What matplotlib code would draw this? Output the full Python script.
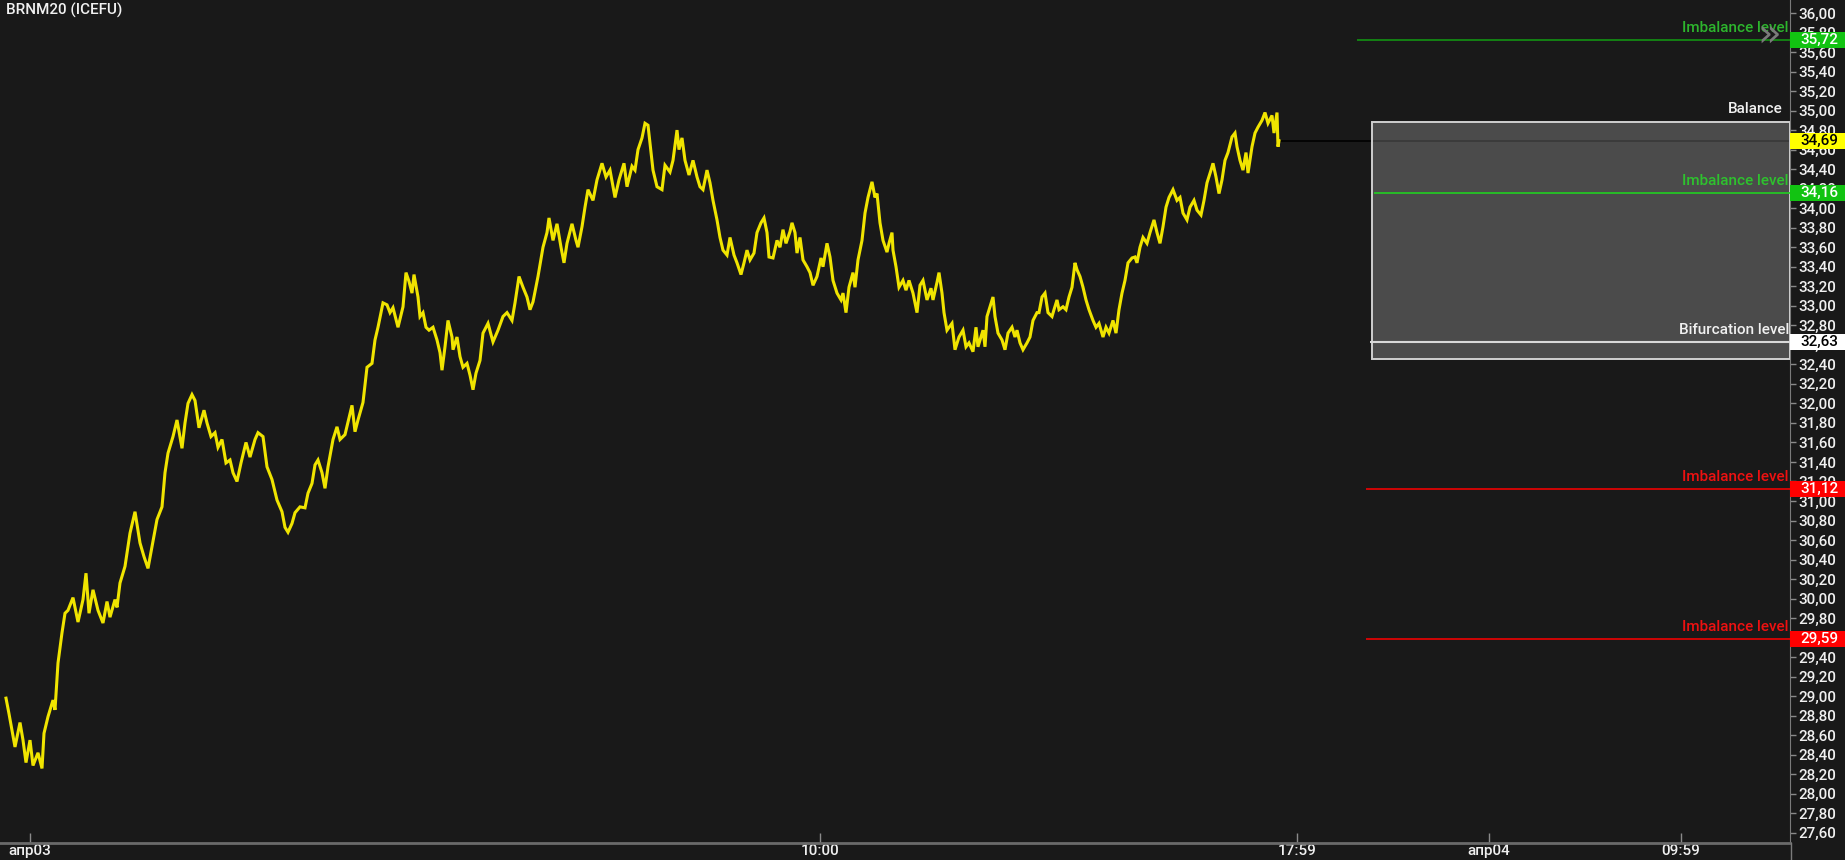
import numpy as np
import matplotlib
matplotlib.use("Agg")
import matplotlib.pyplot as plt
from matplotlib.patches import Rectangle
import matplotlib.transforms as mtransforms
from matplotlib.ticker import FuncFormatter, MultipleLocator

plt.rcParams['font.family'] = ['Roboto', 'DejaVu Sans']
plt.rcParams['font.weight'] = 'medium'

# price path (bar index, price), in four pieces
bar1 = [6, 9, 13, 15, 20, 23, 26, 30, 33, 38, 42, 44, 48, 53, 55, 58, 62, 65, 68, 73,
        78, 83, 86, 89, 93, 98, 103, 107, 110, 115, 117, 120, 125, 130, 135, 140, 144, 148, 152, 157,
        162, 165, 168, 173, 177, 182, 185, 188, 192, 195, 199, 204, 207, 211, 215, 218, 222, 226, 230, 233,
        237, 241, 246, 250, 255, 258, 263, 267, 272, 277, 282, 285, 288, 292, 295, 300, 305, 308, 312, 315,
        318]
px1 = [28.98, 28.82, 28.59, 28.48, 28.73, 28.55, 28.32, 28.55, 28.29, 28.42, 28.26, 28.62, 28.79, 28.96, 28.86, 29.34, 29.65, 29.85, 29.88, 30.01,
       29.76, 29.99, 30.26, 29.85, 30.09, 29.88, 29.75, 29.97, 29.81, 29.99, 29.91, 30.16, 30.33, 30.67, 30.89, 30.57, 30.43, 30.31, 30.53, 30.81,
       30.94, 31.29, 31.49, 31.66, 31.83, 31.54, 31.80, 32.00, 32.09, 32.03, 31.75, 31.93, 31.80, 31.66, 31.70, 31.55, 31.63, 31.39, 31.42, 31.29,
       31.20, 31.39, 31.60, 31.45, 31.63, 31.70, 31.66, 31.35, 31.22, 31.01, 30.89, 30.73, 30.68, 30.77, 30.88, 30.94, 30.93, 31.08, 31.18, 31.37,
       31.42]

bar2 = [322, 325, 328, 333, 337, 340, 345, 348, 352, 355, 358, 363, 367, 372, 375, 378, 383, 387, 390, 393,
        398, 403, 406, 409, 412, 414, 418, 420, 423, 426, 429, 433, 437, 440, 442, 445, 448, 452, 453, 457,
        460, 463, 467, 470, 473, 476, 480, 483, 488, 493, 498, 503, 507, 512, 515, 519, 523, 527, 530, 533,
        538, 543, 547, 549, 553, 557, 561, 564, 567, 572, 576, 578, 582, 585, 588, 593, 597, 602, 606, 610,
        615, 619, 624, 627, 632, 635, 638, 642, 645, 648]
px2 = [31.29, 31.13, 31.35, 31.63, 31.76, 31.63, 31.68, 31.81, 31.98, 31.71, 31.83, 32.01, 32.37, 32.41, 32.65, 32.78, 33.03, 33.01, 32.93, 32.98,
       32.78, 32.99, 33.34, 33.25, 33.13, 33.32, 33.09, 32.89, 32.93, 32.78, 32.75, 32.78, 32.65, 32.52, 32.34, 32.58, 32.85, 32.68, 32.55, 32.68,
       32.48, 32.37, 32.41, 32.29, 32.14, 32.31, 32.44, 32.72, 32.82, 32.63, 32.75, 32.89, 32.93, 32.85, 33.03, 33.30, 33.19, 33.09, 32.96, 33.04,
       33.30, 33.60, 33.75, 33.90, 33.67, 33.84, 33.60, 33.44, 33.64, 33.84, 33.67, 33.60, 33.81, 34.01, 34.19, 34.08, 34.29, 34.46, 34.32, 34.39,
       34.11, 34.29, 34.46, 34.22, 34.43, 34.39, 34.60, 34.72, 34.87, 34.85]

bar3 = [653, 657, 662, 665, 670, 673, 677, 679, 682, 685, 689, 693, 697, 700, 703, 707, 710, 713, 717, 720,
        723, 727, 730, 734, 737, 741, 744, 747, 750, 754, 757, 761, 764, 767, 769, 773, 777, 780, 783, 786,
        790, 792, 795, 797, 800, 803, 807, 810, 813, 817, 821, 823, 827, 830, 833, 837, 841, 843, 846, 849,
        853, 855, 858, 862, 865, 868, 872, 875, 877, 880, 883, 887, 889, 892, 893, 896, 899, 903, 906, 909,
        913, 917, 920, 923, 927, 931, 933, 937, 939, 942, 944, 947, 952, 955, 959, 963, 966, 969, 973, 976,
        978]
px3 = [34.39, 34.22, 34.19, 34.44, 34.37, 34.49, 34.80, 34.60, 34.72, 34.49, 34.34, 34.49, 34.32, 34.22, 34.19, 34.39, 34.26, 34.08, 33.88, 33.70,
       33.57, 33.52, 33.70, 33.52, 33.44, 33.32, 33.44, 33.57, 33.47, 33.54, 33.75, 33.85, 33.90, 33.75, 33.50, 33.49, 33.67, 33.60, 33.78, 33.64,
       33.76, 33.85, 33.75, 33.54, 33.70, 33.47, 33.40, 33.34, 33.21, 33.30, 33.49, 33.40, 33.64, 33.50, 33.26, 33.13, 33.06, 33.13, 32.93, 33.19,
       33.34, 33.19, 33.47, 33.67, 33.95, 34.11, 34.27, 34.11, 34.15, 33.85, 33.67, 33.55, 33.64, 33.75, 33.57, 33.40, 33.19, 33.26, 33.16, 33.26,
       33.13, 32.93, 33.21, 33.26, 33.06, 33.18, 33.06, 33.24, 33.34, 33.13, 32.93, 32.75, 32.82, 32.55, 32.68, 32.75, 32.58, 32.62, 32.53, 32.78,
       32.58]

bar4 = [983, 985, 987, 993, 995, 998, 1002, 1005, 1008, 1012, 1015, 1017, 1020, 1023, 1027, 1030, 1033, 1037, 1039, 1042,
        1045, 1048, 1052, 1054, 1057, 1059, 1063, 1066, 1069, 1072, 1075, 1077, 1080, 1083, 1086, 1089, 1093, 1096, 1099, 1103,
        1106, 1109, 1113, 1116, 1119, 1122, 1125, 1128, 1132, 1135, 1137, 1140, 1143, 1147, 1150, 1154, 1157, 1160, 1163, 1166,
        1169, 1173, 1177, 1180, 1183, 1187, 1190, 1194, 1197, 1201, 1204, 1207, 1211, 1213, 1216, 1219, 1222, 1225, 1228, 1232,
        1235, 1237, 1240, 1243, 1246, 1248, 1252, 1255, 1258, 1262, 1265, 1268, 1272, 1274, 1277, 1278, 1279]
px4 = [32.75, 32.58, 32.89, 33.09, 32.89, 32.72, 32.65, 32.55, 32.72, 32.78, 32.68, 32.75, 32.62, 32.55, 32.62, 32.68, 32.85, 32.93, 32.93, 33.09,
       33.13, 32.93, 32.89, 32.96, 33.06, 32.96, 32.99, 32.96, 33.09, 33.19, 33.44, 33.37, 33.30, 33.19, 33.06, 32.96, 32.85, 32.78, 32.82, 32.68,
       32.78, 32.72, 32.85, 32.72, 32.96, 33.13, 33.26, 33.44, 33.49, 33.50, 33.44, 33.60, 33.70, 33.64, 33.75, 33.88, 33.75, 33.64, 33.81, 34.01,
       34.11, 34.19, 34.08, 34.11, 33.95, 33.88, 34.01, 34.08, 33.98, 33.93, 34.08, 34.26, 34.39, 34.46, 34.32, 34.15, 34.29, 34.49, 34.57, 34.73,
       34.77, 34.63, 34.49, 34.39, 34.57, 34.36, 34.63, 34.77, 34.83, 34.90, 34.98, 34.87, 34.95, 34.77, 34.98, 34.63, 34.69]

last_price = 34.69
balance_top = 34.88
balance_bottom = 32.45
bifurcation = 32.63
imb_up = [35.72, 34.16]
imb_down = [31.12, 29.59]

xtick_pos = [30, 820, 1297, 1489, 1681]
xtick_lab = ["апр03", "10:00", "17:59", "апр04", "09:59"]

W, H = 1845, 860
BG = '#191919'
fig = plt.figure(figsize=(W / 100, H / 100), dpi=100, facecolor=BG)
ax = fig.add_axes([0, 17 / H, 1790 / W, 843 / H])
ax.set_facecolor(BG)

bars = np.array(bar1 + bar2 + bar3 + bar4)
prices = np.array(px1 + px2 + px3 + px4)
ax.plot(bars, prices, color='#f0e400', lw=2.2, zorder=3, solid_joinstyle='miter')

ax.set_xlim(0, 1790)
ax.set_ylim(27.496, 36.133)

# last price line
ax.hlines(last_price, bars[-1], 1790, color='#000000', lw=1.2, zorder=2)

# balance box
ax.add_patch(Rectangle((1372, balance_bottom), 1790 - 1372, balance_top - balance_bottom,
                       facecolor='white', alpha=0.22, edgecolor='none', zorder=4))
ax.add_patch(Rectangle((1372, balance_bottom), 1790 - 1372, balance_top - balance_bottom,
                       facecolor='none', edgecolor='#cfcfcf', lw=1.4, zorder=5))

ax.hlines(imb_up[0], 1357, 1790, color='#129312', lw=1.2, zorder=5)
ax.hlines(imb_up[1], 1374, 1790, color='#22d022', lw=1.2, zorder=5)
ax.hlines(bifurcation, 1370, 1790, color='#d8d8d8', lw=1.5, zorder=5)
for v in imb_down:
    ax.hlines(v, 1366, 1790, color='#ff0000', lw=1.1, zorder=5)

fs = 11
ax.text(1789, imb_up[0] + 0.05, "Imbalance level", color='#2db52d', fontsize=fs, ha='right', va='bottom', zorder=6)
ax.text(1789, imb_up[1] + 0.05, "Imbalance level", color='#2ec22e', fontsize=fs, ha='right', va='bottom', zorder=6)
ax.text(1789, bifurcation + 0.05, "Bifurcation level", color='#f0f0f0', fontsize=fs, ha='right', va='bottom', zorder=6)
ax.text(1783, balance_top + 0.06, "Balance", color='#f0f0f0', fontsize=fs, ha='right', va='bottom', zorder=6)
for v in imb_down:
    ax.text(1789, v + 0.05, "Imbalance level", color='#ee1111', fontsize=fs, ha='right', va='bottom', zorder=6)
ax.text(1769, 35.78, "»", color='#7a7a7a', fontsize=28, ha='center', va='center', zorder=7,
        family='DejaVu Sans')

# y axis
ax.yaxis.tick_right()
ax.yaxis.set_major_locator(MultipleLocator(0.2))
ax.yaxis.set_major_formatter(FuncFormatter(lambda v, p: f"{v:.2f}".replace('.', ',')))
ax.tick_params(axis='y', colors='#8a8a8a', labelcolor='#f0f0f0', length=4, width=1,
               labelsize=fs, pad=2, direction='out')
ax.set_xticks(xtick_pos)
ax.set_xticklabels(xtick_lab)
ax.tick_params(axis='x', colors='#8a8a8a', labelcolor='#f0f0f0', length=7, width=1,
               labelsize=fs, pad=1, direction='in')
for s in ['top', 'left']:
    ax.spines[s].set_visible(False)
ax.spines['right'].set_color('#7a7a7a')
ax.spines['bottom'].set_color('#6a6a6a')
ax.spines['bottom'].set_linewidth(2)
fig.add_artist(plt.Line2D([1790.5 / W, 1790.5 / W], [0, 17 / H], color='#7a7a7a', lw=1))

# price tags on the axis
tr = mtransforms.blended_transform_factory(ax.transAxes, ax.transData)
tags = [(imb_up[0], '#12c312', 'white'), (last_price, '#ffff00', 'black'),
        (imb_up[1], '#12c312', 'white'), (bifurcation, 'white', 'black'),
        (imb_down[0], '#ff0000', 'white'), (imb_down[1], '#ff0000', 'white')]
hh = 8 / 97.6
for v, fc, tc in tags:
    ax.add_patch(Rectangle((1.0, v - hh), 0.04, 2 * hh, transform=tr, facecolor=fc,
                           edgecolor='none', clip_on=False, zorder=10))
    ax.text(1.0 + 10 / 1790, v, f"{v:.2f}".replace('.', ','), transform=tr, color=tc,
            fontsize=fs, ha='left', va='center', clip_on=False, zorder=11)

fig.text(6 / W, 1 - 3 / H, "BRNM20 (ICEFU)", color='#f0f0f0', fontsize=fs, ha='left', va='top')

fig.savefig("out.png", dpi=100, facecolor=BG)
